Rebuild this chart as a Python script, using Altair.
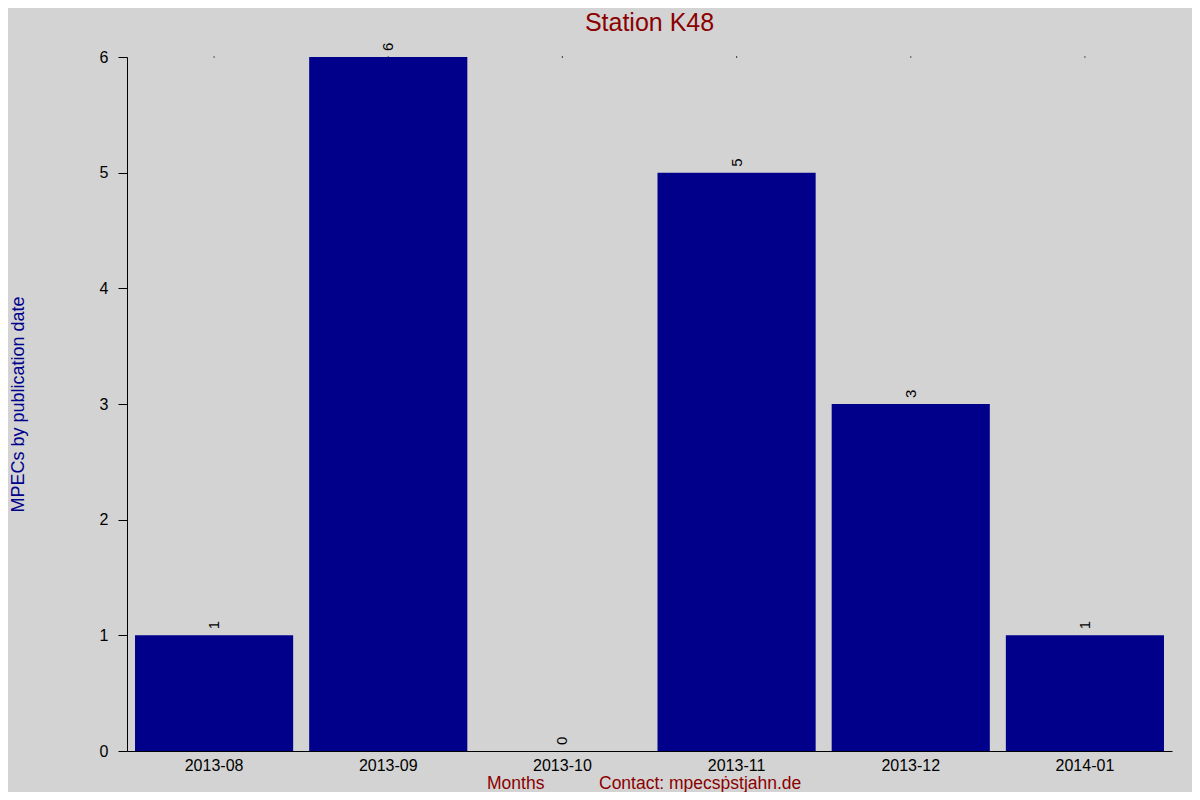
import altair as alt
import pandas as pd

months = ["2013-08", "2013-09", "2013-10", "2013-11", "2013-12", "2014-01"]
counts = [1, 6, 0, 5, 3, 1]
y_ticks = [0, 1, 2, 3, 4, 5, 6]
title_text = "Station K48"
y_title = "MPECs by publication date"
footer_left = ["Months"]
footer_right = ["Contact: mpecs\u1e57stjahn.de"]

FONT = "Liberation Sans"
DARKBLUE = "#00008b"
DARKRED = "#8b0000"

df = pd.DataFrame({"month": months, "count": counts})

x_enc = alt.X(
    "month:N",
    sort=months,
    scale=alt.Scale(paddingInner=0.092, paddingOuter=0.046),
    axis=alt.Axis(
        title=None, ticks=False, labelAngle=0, labelPadding=6,
        labelFontSize=16, labelColor="black", labelFont=FONT,
        domainColor="black", domainWidth=1,
    ),
)
y_enc = alt.Y(
    "count:Q",
    scale=alt.Scale(domain=[0, 6], nice=False),
    axis=alt.Axis(
        values=y_ticks, format="d", grid=False, title=y_title, titleColor=DARKBLUE,
        titleFontSize=18, titleFontWeight="normal", titleFont=FONT,
        titleX=-109, titleY=347, titleBaseline="middle", titleAngle=270,
        titleAlign="center",
        tickSize=9, tickColor="black", labelPadding=10, labelFontSize=16,
        labelColor="black", labelFont=FONT, domainColor="black",
    ),
)

bars = alt.Chart(df).mark_bar(color=DARKBLUE).encode(x=x_enc, y=y_enc)

labels = alt.Chart(df).mark_text(
    angle=270, align="left", baseline="middle", dx=6, fontSize=15,
    color="black", font=FONT,
).encode(x=alt.X("month:N", sort=months), y="count:Q", text="count:Q")

dots = alt.Chart(df).mark_point(
    shape="square", filled=True, size=1.5, color="black", opacity=1
).encode(x=alt.X("month:N", sort=months), y=alt.value(0))

foot1 = alt.Chart(pd.DataFrame({"t": footer_left})).mark_text(
    align="left", baseline="middle", fontSize=17.5, color=DARKRED, font=FONT
).encode(text="t:N", x=alt.value(360), y=alt.value(727))

foot2 = alt.Chart(pd.DataFrame({"t": footer_right})).mark_text(
    align="left", baseline="middle", fontSize=17.5, color=DARKRED, font=FONT
).encode(text="t:N", x=alt.value(472), y=alt.value(727))

chart = alt.layer(bars, labels, dots, foot1, foot2).properties(
    width=1045,
    height=694,
    title=alt.Title(title_text, color=DARKRED, fontSize=25, fontWeight="normal",
                    font=FONT, offset=7, anchor="middle", frame="group"),
    autosize=alt.AutoSizeParams(type="none"),
    padding={"left": 119, "top": 49, "right": 20, "bottom": 41},
    background="#d3d3d3",
).configure_view(stroke=None)

chart.save("out.html", embed_options={"renderer": "svg", "actions": False})
